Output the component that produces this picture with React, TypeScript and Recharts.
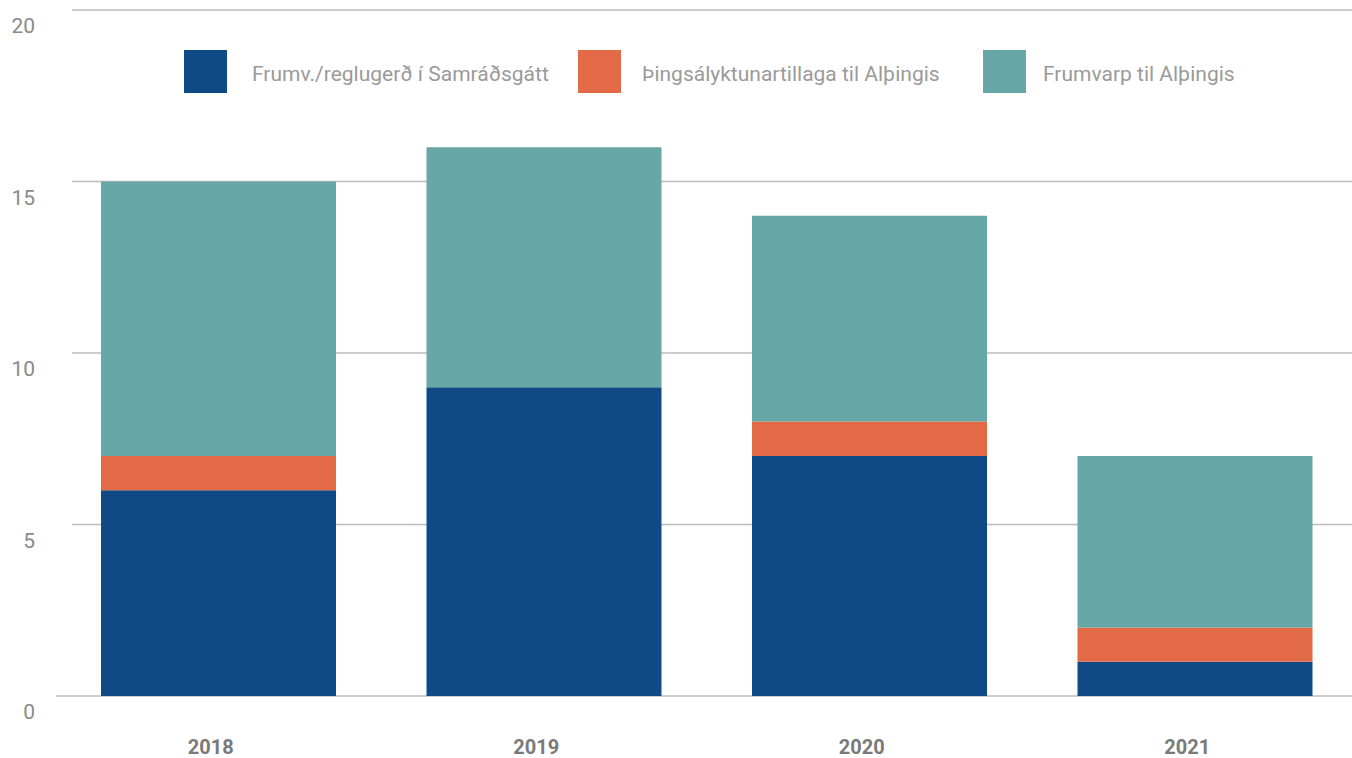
import { Bar, BarChart, CartesianGrid, XAxis, YAxis } from "recharts";

const YEARS = ["2018", "2019", "2020", "2021"];
const SAMRADSGATT = [6, 9, 7, 1];
const THINGSALYKTUN = [1, 0, 1, 1];
const FRUMVARP = [8, 7, 6, 5];
const Y_TICKS = [0, 5, 10, 15, 20];

const SERIES = [
  { key: "samradsgatt", name: "Frumv./reglugerð í Samráðsgátt", color: "#0F4A87" },
  { key: "thingsalyktun", name: "Þingsályktunartillaga til Alþingis", color: "#E26A47" },
  { key: "frumvarp", name: "Frumvarp til Alþingis", color: "#68A7A7" },
];

const data = YEARS.map((year, i) => ({
  year,
  samradsgatt: SAMRADSGATT[i],
  thingsalyktun: THINGSALYKTUN[i],
  frumvarp: FRUMVARP[i],
}));

const FONT = "Roboto, 'Liberation Sans', sans-serif";

function YTick({ x, y, payload }: any) {
  return (
    <text x={x - 13} y={y + 16} textAnchor="end" dominantBaseline="central" fill="#8a8a8a" fontSize={21} fontFamily={FONT}>
      {payload.value}
    </text>
  );
}

function XTick({ x, y, payload }: any) {
  return (
    <text x={x - 8} y={y + 43} textAnchor="middle" dominantBaseline="central" fill="#7a7a7a" fontSize={20} fontWeight={700} fontFamily={FONT}>
      {payload.value}
    </text>
  );
}

function GridLine(p: any) {
  const isBase = Math.abs(p.y1 - (p.y + p.height)) < 1;
  return (
    <line
      key={p.key}
      x1={isBase ? p.x1 : p.x1 + 16}
      x2={p.x2}
      y1={p.y1}
      y2={p.y2}
      stroke="#bdbdbd"
      strokeWidth={1.5}
    />
  );
}

// legend item positions (swatch left edge) and swatch-to-text gaps
const LEGEND_POS = [184, 578, 983];
const LEGEND_GAP = [25, 21, 17];

export default function App() {
  return (
    <div style={{ position: "absolute", left: 0, top: 0, width: 1352, height: 758, background: "#fff" }}>
      <BarChart width={1352} height={758} data={data} margin={{ top: 10, right: -6, bottom: 0, left: 0 }}>
        <CartesianGrid vertical={false} horizontal={GridLine} />
        <XAxis dataKey="year" height={62} axisLine={false} tickLine={false} tick={<XTick />} />
        <YAxis width={56} domain={[0, 20]} ticks={Y_TICKS} axisLine={false} tickLine={false} tick={<YTick />} />
        {SERIES.map((s) => (
          <Bar key={s.key} dataKey={s.key} name={s.name} stackId="a" fill={s.color} barSize={235} isAnimationActive={false} />
        ))}
      </BarChart>
      {SERIES.map((s, i) => (
        <div
          key={s.key}
          style={{ position: "absolute", left: LEGEND_POS[i], top: 50, height: 43, display: "flex", alignItems: "center" }}
        >
          <div style={{ width: 43, height: 43, background: s.color, flex: "none" }} />
          <span
            style={{
              marginLeft: LEGEND_GAP[i],
              marginTop: 5,
              color: "#9a9a9a",
              fontSize: 21,
              fontFamily: FONT,
              whiteSpace: "nowrap",
            }}
          >
            {s.name}
          </span>
        </div>
      ))}
    </div>
  );
}
